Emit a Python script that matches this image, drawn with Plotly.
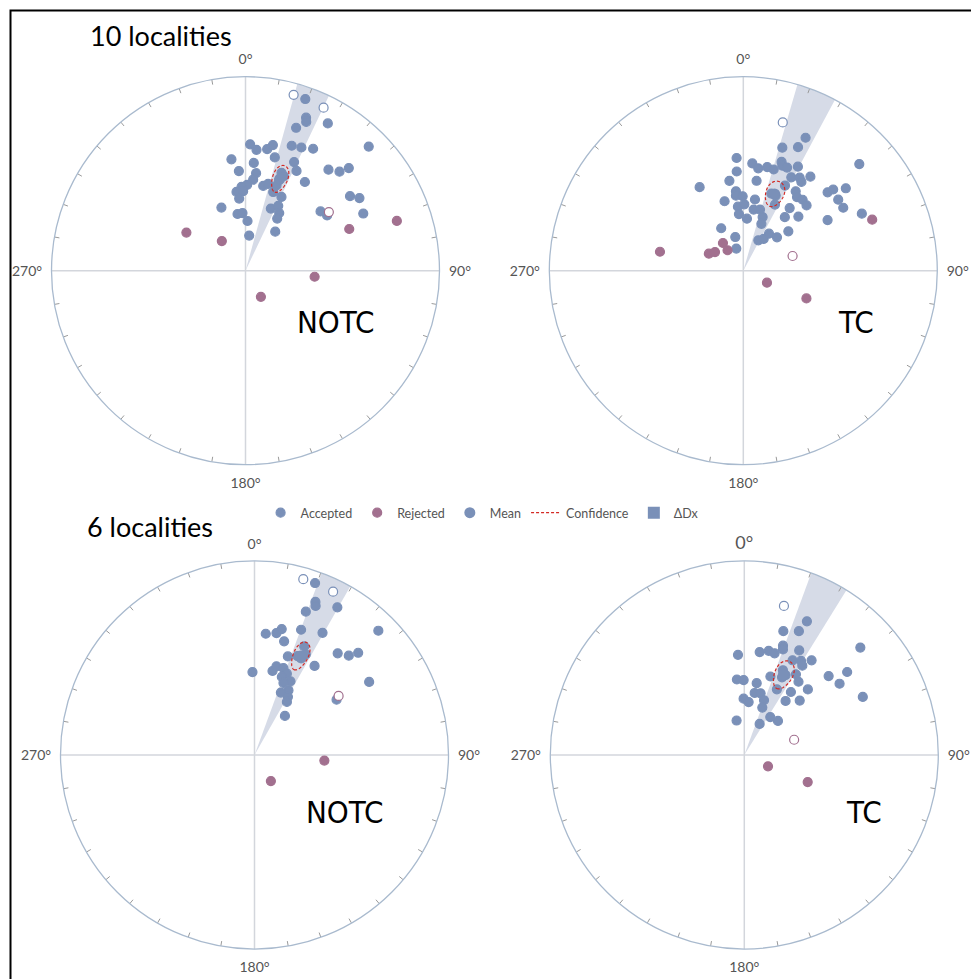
import numpy as np
import plotly.graph_objects as go

# ---------------- data (declination, inclination in degrees; negative inc = upper hemisphere) ----------------
# 10 localities, NOTC
tl_acc_dec = [19.2, 15.3, 25.6, 21.6, 22.2, 29.2, 19.5, 44.8, 2.1, 5.2, 10.1, 12.3, 20.3, 24.4, 29.0,
              352.8, 14.5, 4.4, 24.1, 356.2, 6.2, 27.1, 39.4, 43.5, 45.2, 20.2, 20.3, 22.0, 20.0, 33.8,
              4.8, 1.1, 357.3, 353.5, 358.3, 355.0, 11.8, 14.6, 19.4, 26.0, 54.5, 57.5, 339.1, 22.2, 26.8,
              30.3, 31.3, 352.0, 357.0, 2.3, 51.7, 55.9, 64.1, 6.0, 37.3]
tl_acc_inc = [7.0, -6.7, -7.6, 16.3, 18.3, 14.1, 22.9, 10.8, 35.1, 37.5, 36.5, 34.1, 31.9, 30.9, 28.9,
              41.7, 39.5, 43.6, 38.6, 47.3, 48.1, 41.8, 33.1, 30.3, 25.9, 45.3, 48.9, 46.3, 51.4, 44.2,
              51.1, 53.5, 54.4, 56.4, 56.3, 59.4, 53.2, 51.8, 54.6, 55.2, 34.2, 31.0, 61.5, 61.7, 59.3,
              61.8, 64.3, 65.9, 65.7, 69.1, 49.2, 47.9, 33.0, 75.2, 69.4]
tl_rej_dec = [302.8, 321.4, 68.1, 71.8, 95.0, 149.5, 54.9]
tl_rej_inc = [60.3, 74.1, 41.9, 19.0, 60.7, 77.3, -46.4]
tl_mean = [20.5, 48.1]
tl_conf = [6.3, 4.4]      # semi-axes: inclination, declination
tl_ddx = 5.0

# 10 localities, TC
tr_acc_dec = [25.1, 14.9, 17.6, 23.9, 356.6, 47.4, 4.8, 8.3, 13.0, 16.7, 19.4, 20.4, 23.0, 27.7, 356.2,
              351.2, 8.4, 27.2, 31.2, 33.2, 35.5, 332.4, 26.1, 354.7, 354.4, 359.5, 20.0, 23.3, 25.6, 33.4,
              36.1, 39.9, 44.1, 47.1, 47.9, 51.2, 53.2, 57.8, 344.9, 9.3, 355.2, 0.9, 355.6, 4.0, 9.6,
              15.3, 19.8, 21.1, 36.5, 37.8, 45.5, 64.3, 59.0, 332.5, 346.6, 342.4, 26.3, 32.7, 34.8, 45.3, 48.8]
tr_acc_inc = [25.3, -22.0, 33.9, 31.0, 41.4, 19.9, 43.8, 45.7, 44.4, 44.7, 40.3, 41.8, 41.8, 39.3, 47.5,
              51.3, 51.3, 45.0, 43.3, 44.5, 40.2, 49.8, 49.6, 56.2, 58.1, 58.5, 55.2, 55.3, 59.0, 49.4,
              51.2, 50.6, 51.3, 40.4, 37.6, 32.7, 38.8, 39.0, 59.6, 59.5, 62.9, 62.0, 66.1, 68.1, 63.9,
              63.3, 66.0, 68.9, 57.0, 61.4, 57.3, 32.7, 48.0, 69.9, 75.5, 80.3, 75.8, 74.2, 71.1, 70.1, 64.8]
tr_rej_dec = [282.8, 296.3, 303.4, 323.7, 322.4, 68.4, 116.9, 113.7, 73.4]
tr_rej_inc = [53.7, 73.9, 75.8, 75.6, 79.2, 29.3, 78.9, 60.9, -68.4]
tr_mean = [22.2, 54.8]
tr_conf = [5.8, 6.2]
tr_ddx = 6.0

# 6 localities, NOTC
bl_acc_dec = [19.4, 15.5, 25.7, 21.7, 22.3, 19.7, 29.3, 44.9, 5.3, 10.2, 12.2, 20.4, 29.1, 14.6, 24.6,
              18.7, 23.5, 25.8, 27.0, 39.3, 43.5, 45.4, 34.0, 358.6, 12.1, 13.9, 18.4, 21.7, 19.3, 26.0,
              21.9, 27.7, 22.9, 29.9, 31.4, 57.5, 56.0, 37.9]
bl_acc_inc = [6.7, -6.6, -7.3, 16.2, 18.1, 22.6, 13.8, 10.5, 37.3, 36.3, 34.0, 31.7, 28.7, 39.3, 38.4,
              45.4, 43.7, 44.0, 41.4, 32.8, 30.1, 25.9, 43.9, 54.8, 53.5, 51.1, 51.0, 52.8, 54.9, 55.2,
              57.1, 59.1, 61.4, 61.7, 63.8, 30.6, 47.7, 69.2]
bl_rej_dec = [94.6, 147.9, 54.9]
bl_rej_inc = [60.4, 77.1, -46.0]
bl_mean = [24.9, 43.1]
bl_conf = [6.8, 3.9]
bl_ddx = 4.7

# 6 localities, TC
br_acc_dec = [25.1, 14.9, 17.5, 23.8, 356.4, 47.2, 8.5, 13.2, 16.6, 19.5, 20.1, 27.7, 27.0, 31.1, 33.0,
              35.4, 46.9, 53.2, 51.1, 63.9, 354.4, 359.5, 9.8, 18.4, 24.5, 27.3, 25.9, 32.6, 36.5, 26.4,
              36.5, 44.1, 359.3, 4.7, 9.5, 14.8, 19.8, 20.8, 37.4, 45.5, 347.4, 26.3, 34.4, 44.7]
br_acc_inc = [24.9, -21.6, 33.5, 30.9, 47.1, 19.6, 45.4, 44.1, 44.5, 40.0, 41.6, 39.0, 44.4, 42.8, 44.3,
              39.9, 40.2, 38.6, 32.4, 32.5, 57.9, 58.3, 59.2, 54.9, 50.3, 51.7, 53.3, 49.1, 51.2, 59.0,
              56.8, 51.1, 66.3, 67.7, 63.5, 63.1, 65.5, 68.7, 61.3, 57.1, 75.2, 75.5, 70.7, 69.9]
br_rej_dec = [115.6, 113.1, 73.0]
br_rej_inc = [79.0, 60.9, -68.1]
br_mean = [26.0, 52.1]
br_conf = [6.6, 5.8]
br_ddx = 5.8

cardinal_labels = ["0°", "90°", "180°", "270°"]
legend_names = ["Accepted", "Rejected", "Mean", "Confidence", "ΔDx"]

# ---------------- styling ----------------
BLUE = "#7a90b8"
PURPLE = "#a2708f"
WEDGE = "#d6dbe7"
RED = "#d42a24"
CROSS = "#d3d6dc"
RIM = "#a9bace"
FONT = "Lato, Open Sans, sans-serif"
NARROW = "Liberation Sans Narrow, DejaVu Sans Condensed, sans-serif"


def eqarea(inc):
    inc = np.abs(np.asarray(inc, dtype=float))
    return np.sqrt(2.0) * np.sin(np.radians(90.0 - inc) / 2.0)


def fills(inc, color):
    return ["white" if v < 0 else color for v in inc]


panels = [
    dict(acc_dec=tl_acc_dec, acc_inc=tl_acc_inc, rej_dec=tl_rej_dec, rej_inc=tl_rej_inc,
         mean=tl_mean, conf=tl_conf, ddx=tl_ddx),
    dict(acc_dec=tr_acc_dec, acc_inc=tr_acc_inc, rej_dec=tr_rej_dec, rej_inc=tr_rej_inc,
         mean=tr_mean, conf=tr_conf, ddx=tr_ddx),
    dict(acc_dec=bl_acc_dec, acc_inc=bl_acc_inc, rej_dec=bl_rej_dec, rej_inc=bl_rej_inc,
         mean=bl_mean, conf=bl_conf, ddx=bl_ddx),
    dict(acc_dec=br_acc_dec, acc_inc=br_acc_inc, rej_dec=br_rej_dec, rej_inc=br_rej_inc,
         mean=br_mean, conf=br_conf, ddx=br_ddx),
]

# inward tick marks every 10 degrees along the rim
tick_r, tick_t = [], []
for a in range(0, 360, 10):
    if a % 90:
        tick_r += [1.0, 0.974, None]
        tick_t += [a, a, None]

fig = go.Figure()
for k, p in enumerate(panels):
    sp = "polar" if k == 0 else f"polar{k + 1}"
    first = k == 0
    # Delta Dx wedge
    fig.add_trace(go.Barpolar(r=[1], theta=[p["mean"][0]], width=[2 * p["ddx"]], base=0,
                              marker=dict(color=WEDGE, line=dict(width=0)),
                              showlegend=False, hoverinfo="skip", subplot=sp))
    if first:
        fig.add_trace(go.Barpolar(r=[0], theta=[0], width=[1], base=0, name=legend_names[4],
                                  marker=dict(color=BLUE, line=dict(width=0)),
                                  showlegend=True, hoverinfo="skip", subplot=sp, legendrank=5))
    # cross lines
    for th in ([0, 0, 180], [90, 0, 270]):
        fig.add_trace(go.Scatterpolar(r=[1, 0, 1], theta=th, mode="lines",
                                      line=dict(color=CROSS, width=1.5),
                                      showlegend=False, hoverinfo="skip", subplot=sp))
    # rim ticks
    fig.add_trace(go.Scatterpolar(r=tick_r, theta=tick_t, mode="lines",
                                  line=dict(color="#9a9a9a", width=1), connectgaps=False,
                                  showlegend=False, hoverinfo="skip", subplot=sp))
    # accepted
    fig.add_trace(go.Scatterpolar(r=eqarea(p["acc_inc"]), theta=p["acc_dec"], mode="markers",
                                  name=legend_names[0], showlegend=first, legendrank=1,
                                  marker=dict(size=9, color=fills(p["acc_inc"], BLUE),
                                              line=dict(color=BLUE, width=1.2)),
                                  subplot=sp))
    # rejected
    fig.add_trace(go.Scatterpolar(r=eqarea(p["rej_inc"]), theta=p["rej_dec"], mode="markers",
                                  name=legend_names[1], showlegend=first, legendrank=2,
                                  marker=dict(size=9, color=fills(p["rej_inc"], PURPLE),
                                              line=dict(color=PURPLE, width=1.2)),
                                  subplot=sp))
    # mean
    fig.add_trace(go.Scatterpolar(r=eqarea([p["mean"][1]]), theta=[p["mean"][0]], mode="markers",
                                  name=legend_names[2], showlegend=first, legendrank=3,
                                  marker=dict(size=11, color=BLUE), subplot=sp))
    # confidence ellipse
    t = np.linspace(0, 2 * np.pi, 120)
    e_inc = p["mean"][1] + p["conf"][0] * np.cos(t)
    e_dec = p["mean"][0] + p["conf"][1] * np.sin(t)
    fig.add_trace(go.Scatterpolar(r=eqarea(e_inc), theta=e_dec, mode="lines",
                                  name=legend_names[3], showlegend=first, legendrank=4,
                                  line=dict(color=RED, width=1.2, dash="3px,2px"), subplot=sp))


def polar_layout(dx, dy, big_zero=False):
    vals = [0, 90, 180, 270]
    text = list(cardinal_labels)
    if big_zero:
        text[0] = '<span style="font-size:18px">' + text[0] + '</span>'
    return dict(
        domain=dict(x=dx, y=dy), bgcolor="white", hole=0,
        angularaxis=dict(rotation=90, direction="clockwise", tickmode="array",
                         tickvals=vals, ticktext=text, ticks="outside", ticklen=6,
                         tickwidth=1, tickcolor="rgba(0,0,0,0)", showline=True, linecolor=RIM,
                         linewidth=1.3, showgrid=False,
                         tickfont=dict(family=FONT, size=14, color="#555555")),
        radialaxis=dict(range=[0, 1], visible=False, showgrid=False),
    )


W, H = 971, 979
fig.update_layout(
    width=W, height=H, autosize=False,
    margin=dict(l=0, r=0, t=0, b=0),
    paper_bgcolor="white", plot_bgcolor="white",
    polar=polar_layout([0.05304, 0.45263], [0.52533, 0.92165]),
    polar2=polar_layout([0.56571, 0.96530], [0.52533, 0.92165]),
    polar3=polar_layout([0.06231, 0.46190], [0.03064, 0.42697]),
    polar4=polar_layout([0.56673, 0.96632], [0.03064, 0.42697], big_zero=True),
    legend=dict(orientation="h", x=0.497, xanchor="center", y=1 - 513 / H, yanchor="middle",
                font=dict(family=FONT, size=12.5, color="#555555"),
                itemwidth=30, bgcolor="rgba(0,0,0,0)", traceorder="normal"),
    shapes=[dict(type="rect", xref="paper", yref="paper", x0=10.5 / W, x1=1.1,
                 y0=-0.1, y1=1 - 10.5 / H, line=dict(color="black", width=2),
                 fillcolor="rgba(0,0,0,0)", layer="above")],
    annotations=[
        dict(text="10 localities", x=88 / W, y=1 - 36 / H, xref="paper", yref="paper",
             xanchor="left", yanchor="middle", showarrow=False,
             font=dict(family=FONT, size=27, color="black")),
        dict(text="6 localities", x=85 / W, y=1 - 526 / H, xref="paper", yref="paper",
             xanchor="left", yanchor="middle", showarrow=False,
             font=dict(family=FONT, size=27, color="black")),
        dict(text="NOTC", x=336 / W, y=1 - 322 / H, xref="paper", yref="paper",
             xanchor="center", yanchor="middle", showarrow=False,
             font=dict(family=NARROW, size=31, color="black")),
        dict(text="TC", x=856 / W, y=1 - 322 / H, xref="paper", yref="paper",
             xanchor="center", yanchor="middle", showarrow=False,
             font=dict(family=NARROW, size=31, color="black")),
        dict(text="NOTC", x=344.6 / W, y=1 - 812 / H, xref="paper", yref="paper",
             xanchor="center", yanchor="middle", showarrow=False,
             font=dict(family=NARROW, size=31, color="black")),
        dict(text="TC", x=864 / W, y=1 - 812 / H, xref="paper", yref="paper",
             xanchor="center", yanchor="middle", showarrow=False,
             font=dict(family=NARROW, size=31, color="black")),
    ],
)

fig.write_html("out.html", config={"displayModeBar": False},
               post_script="document.body.style.margin='0';document.body.style.overflow='hidden';")
